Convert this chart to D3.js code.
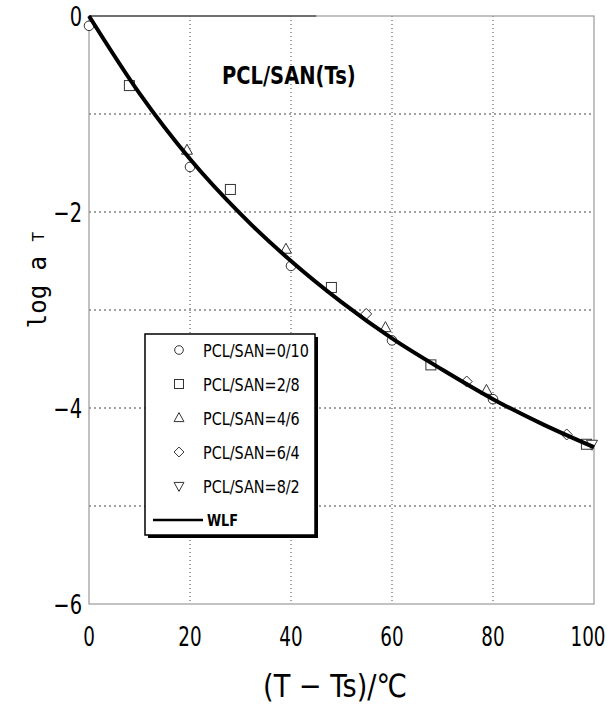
<!DOCTYPE html>
<html>
<head>
<meta charset="utf-8">
<script src="https://cdn.jsdelivr.net/npm/d3@7/dist/d3.min.js"></script>
<style>
  body { margin: 0; background: #fff; }
  svg { display: block; }
  text { font-family: "DejaVu Sans", sans-serif; fill: #000; }
</style>
</head>
<body>
<svg id="chart" width="611" height="708"></svg>
<script>
// data
const xTicks = [0, 20, 40, 60, 80, 100];
const yTickLabels = [0, -2, -4, -6];
const yGrid = [-1, -2, -3, -4, -5];

const seriesNames = ['PCL/SAN=0/10', 'PCL/SAN=2/8', 'PCL/SAN=4/6', 'PCL/SAN=6/4', 'PCL/SAN=8/2'];
const seriesSymbols = ['circle', 'square', 'up', 'diamond', 'down'];

const pcl0 = [[0, -0.1], [20, -1.54], [40, -2.55], [60, -3.31], [80, -3.91]];
const pcl2 = [[8, -0.71], [28, -1.77], [48, -2.77], [67.7, -3.56], [98.5, -4.37]];
const pcl4 = [[19.4, -1.37], [39, -2.38], [58.7, -3.18], [78.7, -3.82]];
const pcl6 = [[54.9, -3.04], [74.8, -3.73], [94.6, -4.27]];
const pcl8 = [[99.6, -4.37]];
const seriesData = [pcl0, pcl2, pcl4, pcl6, pcl8];

// WLF curve, points
const wlfX = [0, 10, 20, 30, 40, 50, 60, 70, 80, 90, 100];
const wlfY = [0, -0.79, -1.46, -2.02, -2.50, -2.92, -3.29, -3.61, -3.91, -4.17, -4.40];

const svg = d3.select('#chart');
const margin = { left: 89, right: 17, top: 16, bottom: 104 };
const width = 611 - margin.left - margin.right;
const height = 708 - margin.top - margin.bottom;

const x = d3.scaleLinear().domain([0, 100]).range([0, width]);
const y = d3.scaleLinear().domain([-6, 0]).range([height, 0]);

const g = svg.append('g').attr('transform', `translate(${margin.left},${margin.top})`);

// narrow text: squeeze horizontally to mimic the condensed gothic face
function narrowText(parent, px, py, str, size, sx, anchor, weight) {
  const t = parent.append('g')
    .attr('transform', `translate(${px},${py}) scale(${sx},1)`)
    .append('text')
    .attr('text-anchor', anchor || 'start')
    .style('font-size', size + 'px')
    .style('font-weight', weight || 'normal')
    .text(str);
  return t;
}

// dotted grid
g.selectAll('.vgrid').data(xTicks.slice(1, -1)).enter().append('line')
  .attr('x1', d => x(d)).attr('x2', d => x(d))
  .attr('y1', 0).attr('y2', height)
  .style('stroke', '#444').style('stroke-width', 1).style('stroke-dasharray', '1,3');
g.selectAll('.hgrid').data(yGrid).enter().append('line')
  .attr('x1', 0).attr('x2', width)
  .attr('y1', d => y(d)).attr('y2', d => y(d))
  .style('stroke', '#444').style('stroke-width', 1).style('stroke-dasharray', '2,3');

// frame
g.append('rect')
  .attr('width', width).attr('height', height)
  .style('fill', 'none').style('stroke', '#999').style('stroke-width', 1.2);
g.append('line').attr('x1', 0).attr('x2', width * 0.45).attr('y1', 0).attr('y2', 0)
  .style('stroke', '#555').style('stroke-width', 1.5);

// tick labels (last one nudged left so it stays inside the page)
xTicks.forEach((d, i) => narrowText(g, x(d) - (i === xTicks.length - 1 ? 6 : 0), height + 42, d, 27, 0.68, 'middle'));
yTickLabels.forEach(d => narrowText(g, -7, y(d) + 10, d < 0 ? '\u2212' + Math.abs(d) : d, 27, 0.72, 'end'));

// axis titles
narrowText(svg, 335, 697, '(T \u2212 Ts)/\u2103', 32, 0.85, 'middle');

const yl = svg.append('text')
  .attr('transform', 'translate(46,280) rotate(-90)')
  .attr('text-anchor', 'middle')
  .style('font-size', '24px')
  .style('font-family', '"DejaVu Sans Mono", monospace');
yl.append('tspan').text('log a ');
yl.append('tspan').attr('dy', -2).style('font-size', '16px').text('T');

// title
narrowText(g, 133, 68, 'PCL/SAN(Ts)', 25, 0.78, 'start', 'bold');

// markers
function drawSymbol(sel, kind, s) {
  if (kind === 'circle') {
    sel.append('circle').attr('r', s * 0.48);
  } else if (kind === 'square') {
    sel.append('rect').attr('x', -s / 2).attr('y', -s / 2).attr('width', s).attr('height', s);
  } else if (kind === 'up') {
    sel.append('path').attr('d', `M0,${-s * 0.6}L${s * 0.55},${s * 0.4}L${-s * 0.55},${s * 0.4}Z`);
  } else if (kind === 'down') {
    sel.append('path').attr('d', `M0,${s * 0.6}L${s * 0.55},${-s * 0.4}L${-s * 0.55},${-s * 0.4}Z`);
  } else if (kind === 'diamond') {
    sel.append('path').attr('d', `M0,${-s * 0.55}L${s * 0.55},0L0,${s * 0.55}L${-s * 0.55},0Z`);
  }
}

seriesData.forEach((pts, i) => {
  g.selectAll(`.pt${i}`).data(pts).enter().append('g')
    .attr('transform', d => `translate(${x(d[0])},${y(d[1])})`)
    .each(function (d) {
      drawSymbol(d3.select(this), seriesSymbols[i], 10);
    })
    .selectAll('*')
    .style('fill', '#fff').style('stroke', '#333').style('stroke-width', 1);
});

// WLF line
const line = d3.line().x(d => x(d[0])).y(d => y(d[1])).curve(d3.curveMonotoneX);
g.append('path')
  .datum(wlfX.map((v, i) => [v, wlfY[i]]))
  .attr('d', line)
  .style('fill', 'none').style('stroke', '#000').style('stroke-width', 4);

// legend
const lg = svg.append('g').attr('transform', 'translate(145,334)');
const lw = 170, lh = 201;
lg.append('rect').attr('x', 3).attr('y', 3).attr('width', lw).attr('height', lh).style('fill', '#000');
lg.append('rect').attr('width', lw).attr('height', lh)
  .style('fill', '#fff').style('stroke', '#000').style('stroke-width', 1.5);

seriesNames.forEach((name, i) => {
  const row = lg.append('g').attr('transform', `translate(34,${16 + i * 34})`);
  drawSymbol(row, seriesSymbols[i], 9);
  row.selectAll('*').style('fill', '#fff').style('stroke', '#333').style('stroke-width', 1);
  narrowText(row, 24, 7, name, 18, 0.8);
});
const wrow = lg.append('g').attr('transform', `translate(0,${16 + 5 * 34})`);
wrow.append('line').attr('x1', 8).attr('x2', 58).style('stroke', '#000').style('stroke-width', 2.5);
narrowText(wrow, 62, 6, 'WLF', 16, 0.8, 'start', 'bold');
</script>
</body>
</html>
